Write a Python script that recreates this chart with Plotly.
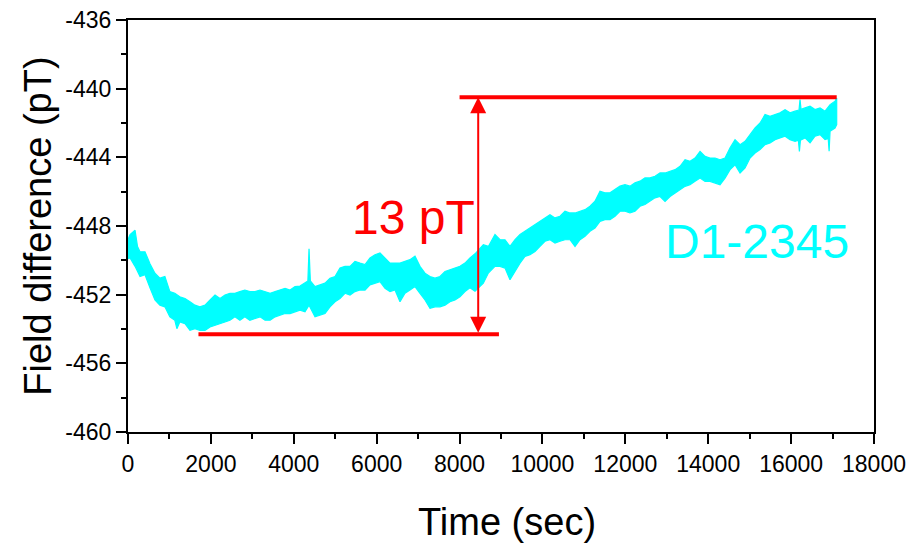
import plotly.graph_objects as go

# ---- data (upper / lower envelope of the noisy trace) ----
x_upper = [0, 50, 170, 230, 290, 410, 530, 650, 770, 890, 1010, 1130, 1250, 1375, 1495, 1615,
           1735, 1858, 1980, 2100, 2220, 2340, 2460, 2580, 2700, 2820, 2940, 3065, 3185, 3306,
           3430, 3550, 3670, 3790, 3910, 4030, 4150, 4271, 4340, 4368, 4400, 4512, 4633, 4754,
           4874, 4995, 5115, 5236, 5357, 5477, 5598, 5719, 5839, 5960, 6080, 6201, 6322, 6442,
           6563, 6684, 6804, 6925, 7045, 7166, 7287, 7407, 7528, 7649, 7769, 7890, 8010, 8131,
           8251, 8373, 8574, 8695, 8855, 8976, 9097, 9217, 9338, 9459, 9579, 9700, 9821, 9941,
           10062, 10182, 10303, 10424, 10544, 10665, 10786, 10906, 11027, 11147, 11268, 11389,
           11509, 11630, 11751, 11871, 11992, 12112, 12233, 12354, 12474, 12595, 12716, 12838,
           12958, 13079, 13200, 13320, 13441, 13561, 13682, 13803, 13923, 14044, 14165, 14285,
           14406, 14527, 14647, 14768, 14889, 15009, 15130, 15251, 15371, 15492, 15613, 15733,
           15854, 15974, 16095, 16190, 16215, 16240, 16336, 16457, 16577, 16698, 16819, 16940,
           17060, 17100]
y_upper = [-448.8, -448.5, -448.25, -449.2, -449.5, -449.5, -450.2, -450.75, -451.04, -450.94,
           -451.82, -451.92, -452.12, -452.22, -452.41, -452.61, -452.71, -452.61, -452.31,
           -452.02, -452.22, -452.02, -451.92, -451.92, -451.82, -451.73, -451.82, -451.82,
           -451.73, -451.82, -451.92, -451.82, -451.73, -451.63, -451.73, -451.53, -451.5,
           -451.33, -451.2, -449.33, -451.2, -451.53, -451.43, -451.33, -451.04, -450.94,
           -450.45, -450.35, -450.35, -450.06, -450.16, -450.25, -449.86, -449.67, -449.57,
           -449.86, -450.16, -450.16, -450.16, -450.06, -449.96, -449.76, -450.35, -450.75,
           -450.94, -451.04, -450.94, -450.65, -450.55, -450.45, -450.35, -450.16, -449.86,
           -449.62, -449.09, -449.19, -448.5, -448.8, -448.8, -449.19, -448.8, -448.5, -448.31,
           -448.12, -447.92, -447.73, -447.53, -447.34, -447.53, -447.43, -447.14, -447.24,
           -447.24, -447.14, -447.05, -446.85, -446.56, -445.98, -446.07, -446.07, -445.88,
           -445.68, -445.59, -445.68, -445.49, -445.39, -445.2, -445.2, -445.1, -444.91,
           -444.91, -444.82, -444.72, -444.52, -444.14, -444.23, -444.04, -443.65, -443.94,
           -444.04, -444.04, -444.14, -444.04, -443.45, -442.97, -443.26, -443.07, -442.68,
           -442.29, -442.0, -441.51, -441.61, -441.51, -441.41, -441.22, -441.41, -441.31,
           -441.25, -440.63, -441.2, -441.12, -441.02, -441.22, -441.12, -441.31, -440.93,
           -440.73, -440.54]

x_lower = [0, 50, 170, 290, 410, 530, 650, 770, 890, 1010, 1130, 1180, 1250, 1375, 1495, 1615,
           1735, 1858, 1980, 2100, 2220, 2340, 2460, 2580, 2700, 2820, 2940, 3065, 3185, 3306,
           3430, 3550, 3670, 3790, 3910, 4030, 4150, 4271, 4368, 4512, 4633, 4754, 4874, 4995,
           5115, 5236, 5357, 5477, 5598, 5719, 5839, 5960, 6080, 6201, 6322, 6442, 6563, 6684,
           6804, 6925, 7045, 7166, 7287, 7407, 7528, 7649, 7769, 7890, 8010, 8131, 8251, 8373,
           8574, 8695, 8855, 8976, 9097, 9217, 9338, 9459, 9579, 9700, 9821, 9941, 10062, 10182,
           10303, 10424, 10544, 10665, 10786, 10906, 11027, 11147, 11268, 11389, 11509, 11630,
           11751, 11871, 11992, 12112, 12233, 12354, 12474, 12595, 12716, 12838, 12958, 13079,
           13200, 13320, 13441, 13561, 13682, 13803, 13923, 14044, 14165, 14285, 14406, 14527,
           14647, 14768, 14889, 15009, 15130, 15251, 15371, 15492, 15613, 15733, 15854, 15974,
           16095, 16175, 16200, 16225, 16336, 16457, 16577, 16698, 16819, 16895, 16917, 16940,
           17060, 17100]
y_lower = [-449.9, -449.86, -450.35, -450.94, -450.84, -451.6, -452.31, -452.61, -452.71,
           -453.29, -453.49, -453.98, -453.59, -453.69, -454.08, -453.98, -454.08, -454.08,
           -453.88, -453.78, -453.69, -453.59, -453.49, -453.29, -453.49, -453.29, -453.49,
           -453.39, -453.29, -453.49, -453.49, -453.29, -453.2, -453.1, -453.1, -453.0, -452.9,
           -453.0, -452.61, -453.29, -453.2, -453.1, -452.71, -452.41, -452.22, -451.92,
           -452.02, -451.82, -451.73, -451.73, -451.43, -451.33, -451.24, -451.63, -451.82,
           -451.73, -452.41, -451.92, -451.73, -451.53, -451.92, -452.31, -452.8, -452.71,
           -452.71, -452.61, -452.41, -452.31, -452.12, -451.82, -451.6, -451.8, -451.33,
           -450.74, -450.35, -450.35, -450.45, -451.13, -450.64, -450.16, -449.77, -449.67,
           -449.48, -449.19, -448.89, -448.8, -448.99, -448.89, -448.8, -448.8, -449.19,
           -448.8, -448.6, -448.31, -448.12, -447.73, -447.63, -447.63, -447.43, -447.14,
           -447.14, -447.24, -447.14, -446.85, -446.75, -446.56, -446.36, -446.28, -446.57,
           -446.28, -446.08, -445.89, -445.69, -445.6, -445.4, -445.21, -445.4, -445.4, -445.5,
           -445.6, -445.21, -444.72, -444.43, -444.91, -444.62, -444.04, -443.75, -443.55,
           -443.26, -443.16, -442.97, -442.87, -442.77, -442.97, -443.07, -443.0, -443.65,
           -443.0, -442.87, -443.16, -442.77, -442.68, -442.97, -442.9, -443.65, -442.48,
           -442.29, -442.09]

# marker lines / annotations
high_level = -440.5
high_x = [8000, 17100]
low_level = -454.3
low_x = [1700, 8950]
arrow_x = 8450
delta_label = "13 pT"
series_label = "D1-2345"

x_ticks = list(range(0, 18001, 2000))
y_ticks = list(range(-460, -435, 4))

CYAN = "#00FFFF"
RED = "#FF0000"
FONT = "Liberation Sans, Arial"

fig = go.Figure()

# noisy band (upper envelope forward, lower envelope backward)
fig.add_trace(go.Scatter(
    x=x_upper + x_lower[::-1],
    y=y_upper + y_lower[::-1],
    mode="lines", fill="toself", fillcolor=CYAN,
    line=dict(color=CYAN, width=1.2),
    hoverinfo="skip", showlegend=False))

fig.add_trace(go.Scatter(x=high_x, y=[high_level, high_level], mode="lines",
                         line=dict(color=RED, width=4), showlegend=False))
fig.add_trace(go.Scatter(x=low_x, y=[low_level, low_level], mode="lines",
                         line=dict(color=RED, width=4), showlegend=False))

# double-headed arrow
fig.add_annotation(x=arrow_x, y=high_level, ax=arrow_x, ay=low_level,
                   xref="x", yref="y", axref="x", ayref="y",
                   showarrow=True, arrowhead=2, startarrowhead=2, arrowside="end+start",
                   arrowsize=1.6, startarrowsize=1.6, arrowwidth=2, arrowcolor=RED, text="")

fig.add_annotation(x=6877, y=-447.5, xref="x", yref="y", text=delta_label, showarrow=False,
                   xanchor="center", yanchor="middle",
                   font=dict(family=FONT, size=48, color=RED))
fig.add_annotation(x=15180, y=-448.92, xref="x", yref="y", text=series_label, showarrow=False,
                   xanchor="center", yanchor="middle",
                   font=dict(family=FONT, size=48, color=CYAN))

# axis titles
fig.add_annotation(x=-0.121, y=0.5, xref="paper", yref="paper", text="Field difference (pT)",
                   textangle=-90, showarrow=False, xanchor="center", yanchor="middle",
                   font=dict(family=FONT, size=38, color="black"))
fig.add_annotation(x=0.508, y=-0.218, xref="paper", yref="paper", text="Time (sec)",
                   showarrow=False, xanchor="center", yanchor="middle",
                   font=dict(family=FONT, size=38, color="black"))

axis_common = dict(showline=True, linecolor="black", linewidth=2, mirror=True,
                   ticks="outside", ticklen=10, tickwidth=2, tickcolor="black",
                   showgrid=False, zeroline=False, automargin=False,
                   tickfont=dict(family=FONT, size=23, color="black"))

fig.update_xaxes(range=[0, 18000], tickvals=x_ticks, ticktext=[str(v) for v in x_ticks],
                 minor=dict(ticks="outside", dtick=1000, ticklen=5, tickwidth=2,
                            tickcolor="black", showgrid=False),
                 **axis_common)
fig.update_yaxes(range=[-460, -436], tickvals=y_ticks, ticktext=[str(v) for v in y_ticks],
                 minor=dict(ticks="outside", dtick=2, ticklen=5, tickwidth=2,
                            tickcolor="black", showgrid=False),
                 **axis_common)

fig.update_layout(width=911, height=546, margin=dict(l=128, r=37, t=20, b=114),
                  plot_bgcolor="white", paper_bgcolor="white")

fig.write_html("out.html")
